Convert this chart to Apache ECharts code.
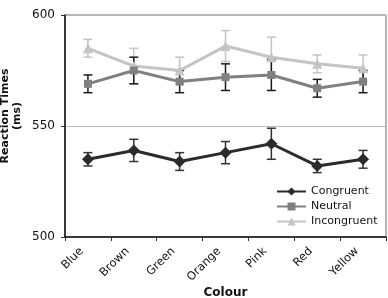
<!DOCTYPE html>
<html>
<head>
<meta charset="utf-8">
<script src="https://cdn.jsdelivr.net/npm/echarts@6/dist/echarts.min.js"></script>
<style>
  html, body { margin: 0; padding: 0; background: #fff; }
  #main { width: 388px; height: 298px; }
</style>
</head>
<body>
<div id="main"></div>
<script>
// colours on the x axis
var colours = ['Blue', 'Brown', 'Green', 'Orange', 'Pink', 'Red', 'Yellow'];

// mean reaction times (ms)
var congruent = [535, 539, 534, 538, 542, 532, 535];
var neutral = [569, 575, 570, 572, 573, 567, 570];
var incongruent = [585, 577, 575, 586, 581, 578, 576];

// error bar half-widths (ms)
var congruentErr = [3, 5, 4, 5, 7, 3, 4];
var neutralErr = [4, 6, 5, 6, 7, 4, 5];
var incongruentErr = [4, 8, 6, 7, 9, 4, 6];

var yTicks = [500, 550, 600];

function errData(vals, errs) {
  return vals.map(function (v, i) { return [i, v - errs[i], v + errs[i]]; });
}

function errSeries(name, vals, errs, color) {
  return {
    type: 'custom',
    name: name + ' err',
    z: 1,
    silent: true,
    renderItem: function (params, api) {
      var x = api.value(0);
      var lo = api.coord([x, api.value(1)]);
      var hi = api.coord([x, api.value(2)]);
      var w = 4.5;
      var st = { stroke: color, lineWidth: 1.5 };
      return {
        type: 'group',
        children: [
          { type: 'line', shape: { x1: lo[0], y1: lo[1], x2: hi[0], y2: hi[1] }, style: st },
          { type: 'line', shape: { x1: lo[0] - w, y1: lo[1], x2: lo[0] + w, y2: lo[1] }, style: st },
          { type: 'line', shape: { x1: hi[0] - w, y1: hi[1], x2: hi[0] + w, y2: hi[1] }, style: st }
        ]
      };
    },
    encode: { x: 0, y: [1, 2] },
    data: errData(vals, errs)
  };
}

function lineSeries(name, vals, color, symbol, size) {
  return {
    type: 'line',
    name: name,
    z: 3,
    data: vals,
    symbol: symbol,
    symbolSize: size,
    lineStyle: { color: color, width: 3 },
    itemStyle: { color: color }
  };
}

var chart = echarts.init(document.getElementById('main'));
chart.setOption({
  animation: false,
  backgroundColor: '#fff',
  textStyle: { fontFamily: 'DejaVu Sans' },
  grid: {
    left: 65, right: 2, top: 15, bottom: 61,
    outerBoundsMode: 'none',
    show: true, borderColor: '#666', borderWidth: 1
  },
  legend: {
    left: 271,
    top: 181,
    orient: 'vertical',
    align: 'left',
    itemWidth: 29,
    itemHeight: 10,
    itemGap: 4,
    textStyle: { fontSize: 11, color: '#111', fontFamily: 'DejaVu Sans' },
    data: ['Congruent', 'Neutral', 'Incongruent']
  },
  xAxis: {
    type: 'category',
    data: colours,
    boundaryGap: true,
    name: 'Colour',
    nameLocation: 'middle',
    nameGap: 50,
    nameMoveOverlap: false,
    nameTextStyle: { fontWeight: 'bold', fontSize: 12, color: '#111' },
    axisLine: { lineStyle: { color: '#111', width: 1.5 } },
    axisTick: { show: true, length: 4, lineStyle: { color: '#333' } },
    axisLabel: { rotate: 45, fontSize: 11.5, color: '#111', margin: 6, padding: [0, 9, 0, 0] },
    splitLine: { show: false }
  },
  yAxis: {
    type: 'value',
    min: yTicks[0],
    max: yTicks[yTicks.length - 1],
    interval: 50,
    name: 'Reaction Times\n(ms)',
    nameLocation: 'middle',
    nameGap: 42,
    nameMoveOverlap: false,
    nameRotate: 90,
    nameTextStyle: { fontWeight: 'bold', fontSize: 11, color: '#111', lineHeight: 12, padding: [0, 0, 0, 20] },
    axisLine: { show: true, lineStyle: { color: '#111', width: 1.5 } },
    axisTick: { show: true, length: 4, lineStyle: { color: '#333' } },
    axisLabel: { fontSize: 12, color: '#111', margin: 10 },
    splitLine: { show: true, lineStyle: { color: '#bbb', width: 1 } }
  },
  series: [
    errSeries('Incongruent', incongruent, incongruentErr, '#c4c4c4'),
    errSeries('Neutral', neutral, neutralErr, '#1a1a1a'),
    errSeries('Congruent', congruent, congruentErr, '#333'),
    lineSeries('Incongruent', incongruent, '#c4c4c4', 'triangle', 10),
    lineSeries('Neutral', neutral, '#808080', 'rect', 8),
    lineSeries('Congruent', congruent, '#2b2b2b', 'diamond', 12)
  ]
});
</script>
</body>
</html>
